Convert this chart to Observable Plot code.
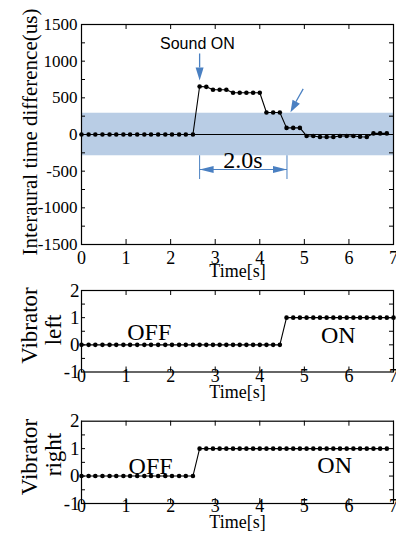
<!DOCTYPE html>
<html><head><meta charset="utf-8">
<script src="https://cdn.jsdelivr.net/npm/d3@7"></script>
<script src="https://cdn.jsdelivr.net/npm/@observablehq/plot@0.6"></script>
<style>
body{margin:0;background:#fff;}
#chart{position:relative;width:396px;height:541px;background:#fff;overflow:hidden;}
#chart svg{position:absolute;left:0;}
</style></head><body><div id="chart"></div>
<script>
// ---- data ----
const time = [0,0.16,0.31,0.47,0.63,0.78,0.94,1.09,1.25,1.41,1.56,1.72,1.88,2.03,2.19,2.34,2.5,
  2.65,2.8,2.95,3.1,3.25,3.4,3.55,3.7,3.85,4.0,4.15,4.3,4.45,4.6,4.75,4.9,5.05,5.2,5.35,5.5,5.65,5.8,5.95,6.1,6.25,6.4,6.55,6.7,6.85,7.0];
const itd = [0,0,0,0,0,0,0,0,0,0,0,0,0,0,0,0,0,
  655,650,610,610,610,570,570,570,570,570,300,300,300,90,90,90,-20,-20,-35,-35,-35,-20,-20,-20,-30,-35,15,15,15,null];
const vibLeft = [0,0,0,0,0,0,0,0,0,0,0,0,0,0,0,0,0,0,0,0,0,0,0,0,0,0,0,0,0,0,
  1,1,1,1,1,1,1,1,1,1,1,1,1,1,1,1,1];
const vibRight = [0,0,0,0,0,0,0,0,0,0,0,0,0,0,0,0,0,
  1,1,1,1,1,1,1,1,1,1,1,1,1,1,1,1,1,1,1,1,1,1,1,1,1,1,1,1,1];

const xTicks = [0,1,2,3,4,5,6,7];
const itdTicks = [-1500,-1000,-500,0,500,1000,1500];
const itdMinor = [-1250,-1000,-750,-500,-250,0,250,500,750,1000,1250];
const vibTicks = [-1,0,1,2];
const vibMinor = [-0.5,0,0.5,1,1.5];

const band = [{x1:0, x2:7, y1:-290, y2:290}];
const soundLabel = [{x:2.6, y:1160, text:"Sound ON"}];
const arrowShafts = [{x1:2.65, y1:1105, x2:2.65, y2:914},{x1:4.974, y1:623, x2:4.81, y2:447}];
const arrowHeads = [{x:2.65, y:736, k:0},{x:4.689, y:304, k:1}];
const dimTicks = [2.65, 4.61];
const dimLine = [{x1:2.65, x2:4.61, y:-477}];
const dimHeads = [{x:2.65, y:-477, k:"L"},{x:4.61, y:-477, k:"R"}];
const dimLabel = [{x:3.62, y:-450, text:"2.0s"}];
const offOn = [{x:1.52, y:0.17, text:"OFF"},{x:5.76, y:0.07, text:"ON"}];
const offOnR = [{x:1.55, y:0.08, text:"OFF"},{x:5.68, y:0.12, text:"ON"}];

// ---- style ----
const serif = "Liberation Serif";
const sans = "Liberation Sans";
const blue = "#4a80c2";
const bandColor = "#b9cde5";

function head(dx, dy, len, half) {
  const n = Math.hypot(dx, dy), ux = dx / n, uy = dy / n, px = -uy, py = ux;
  return {draw(ctx) {
    ctx.moveTo(0, 0);
    ctx.lineTo(-ux * len + px * half, -uy * len + py * half);
    ctx.lineTo(-ux * len - px * half, -uy * len - py * half);
    ctx.closePath();
  }};
}

const series = (ys) => time.map((t, i) => ({t, v: ys[i]}));

function frameTicks(fw, fh, xt, yt) {
  return [
    Plot.ruleX(xt, {x: d => d, insetTop: fh - 5, stroke: "black"}),
    Plot.ruleX(xt, {x: d => d, insetBottom: fh - 5, stroke: "black"}),
    Plot.ruleY(yt, {y: d => d, insetRight: fw - 4, stroke: "black"}),
    Plot.ruleY(yt, {y: d => d, insetLeft: fw - 4, stroke: "black"}),
    Plot.frame({stroke: "black", strokeWidth: 1.2})
  ];
}
function tickLabels(xt, yt, xdy, xsize, ydx, ysize) {
  return [
    Plot.text(xt, {x: d => d, frameAnchor: "bottom", dy: xdy, lineAnchor: "bottom", text: d => String(d), fontSize: xsize, fontFamily: serif, fill: "black"}),
    Plot.text(yt, {y: d => d, frameAnchor: "left", textAnchor: "end", dx: ydx, lineAnchor: "middle", text: d => String(d), fontSize: ysize, fontFamily: serif, fill: "black"})
  ];
}

const chart = document.getElementById("chart");
const W = 396, ML = 81, MR = 3, FW = W - ML - MR;
const baseStyle = {fontFamily: serif, background: "transparent", color: "black", overflow: "visible"};

// ---- top chart ----
{
  const H = 285, MT = 24, MB = 41, FH = H - MT - MB;
  const data = series(itd);
  const svg = Plot.plot({
    width: W, height: H, marginTop: MT, marginBottom: MB, marginLeft: ML, marginRight: MR,
    x: {domain: [0, 7], axis: null}, y: {domain: [-1500, 1500], axis: null},
    symbol: {domain: ["L", "R", 0, 1], range: [head(-1, 0, 14, 3.6), head(1, 0, 14, 3.6), head(0, 1, 13, 4), head(-12.7, 23.4, 12, 4.2)]},
    style: baseStyle,
    marks: [
      Plot.rect(band, {x1: "x1", x2: "x2", y1: "y1", y2: "y2", fill: bandColor}),
      Plot.ruleX(dimTicks, {x: d => d, y1: -290, y2: -614, stroke: blue, strokeWidth: 1}),
      Plot.link(dimLine, {x1: "x1", x2: "x2", y1: "y", y2: "y", stroke: blue, strokeWidth: 1.2}),
      Plot.dot(dimHeads, {x: "x", y: "y", symbol: "k", fill: blue, stroke: "none", r: 3}),
      Plot.text(dimLabel, {x: "x", y: "y", text: "text", fontSize: 24, fontFamily: serif, lineAnchor: "bottom", fill: "black"}),
      Plot.ruleY([0], {stroke: "black", strokeWidth: 1}),
      ...frameTicks(FW, FH, xTicks, itdMinor),
      ...tickLabels(xTicks, itdTicks, 19, 18, -4, 17),
      Plot.text(["Time[s]"], {frameAnchor: "bottom", dy: 32, lineAnchor: "bottom", fontSize: 18, fontFamily: serif}),
      Plot.text(["Interaural time difference(us)"], {frameAnchor: "left", textAnchor: "middle", dx: -51.7, dy: -2.5, rotate: -90, fontSize: 21, fontFamily: serif}),
      Plot.line(data, {x: "t", y: "v", stroke: "black", strokeWidth: 1.1}),
      Plot.dot(data, {x: "t", y: "v", r: 2.3, fill: "black", stroke: "none"}),
      Plot.text(soundLabel, {x: "x", y: "y", text: "text", fontFamily: sans, fontSize: 16, lineAnchor: "bottom"}),
      Plot.link(arrowShafts, {x1: "x1", y1: "y1", x2: "x2", y2: "y2", stroke: blue, strokeWidth: 1.3}),
      Plot.dot(arrowHeads, {x: "x", y: "y", symbol: "k", fill: blue, stroke: "none", r: 3})
    ]
  });
  svg.style.top = "0px";
  chart.appendChild(svg);
}

// ---- vibrator charts ----
function vibChart(top, H, MT, MB, ys, words, labels, tickDy, titleDy, wordDy) {
  const FH = H - MT - MB;
  const data = series(ys);
  const svg = Plot.plot({
    width: W, height: H, marginTop: MT, marginBottom: MB, marginLeft: ML, marginRight: MR,
    x: {domain: [0, 7], axis: null}, y: {domain: [-1, 2], axis: null},
    style: baseStyle,
    marks: [
      ...frameTicks(FW, FH, xTicks, vibMinor),
      ...tickLabels(xTicks, vibTicks, tickDy, 18, -2, 19),
      Plot.text(["Time[s]"], {frameAnchor: "bottom", dy: titleDy, lineAnchor: "bottom", fontSize: 18, fontFamily: serif}),
      Plot.text([words[0]], {frameAnchor: "left", textAnchor: "middle", lineAnchor: "bottom", dx: -45, dy: wordDy[0], rotate: -90, fontSize: 23, fontFamily: serif}),
      Plot.text([words[1]], {frameAnchor: "left", textAnchor: "middle", lineAnchor: "bottom", dx: -20.5, dy: wordDy[1], rotate: -90, fontSize: 23, fontFamily: serif}),
      Plot.text(labels, {x: "x", y: "y", text: "text", fontSize: 24, lineAnchor: "bottom", fontFamily: serif}),
      Plot.line(data, {x: "t", y: "v", stroke: "black", strokeWidth: 1.1}),
      Plot.dot(data, {x: "t", y: "v", r: 2.3, fill: "black", stroke: "none"})
    ]
  });
  svg.style.top = top + "px";
  chart.appendChild(svg);
}
vibChart(270, 140, 20, 38.5, vibLeft, ["Vibrator", "left"], offOn, 9.5, 25.5, [-5.75, -1.25]);
vibChart(400, 141, 20.7, 38, vibRight, ["Vibrator", "right"], offOnR, 8, 24, [-5.35, -7.85]);
</script></body></html>
